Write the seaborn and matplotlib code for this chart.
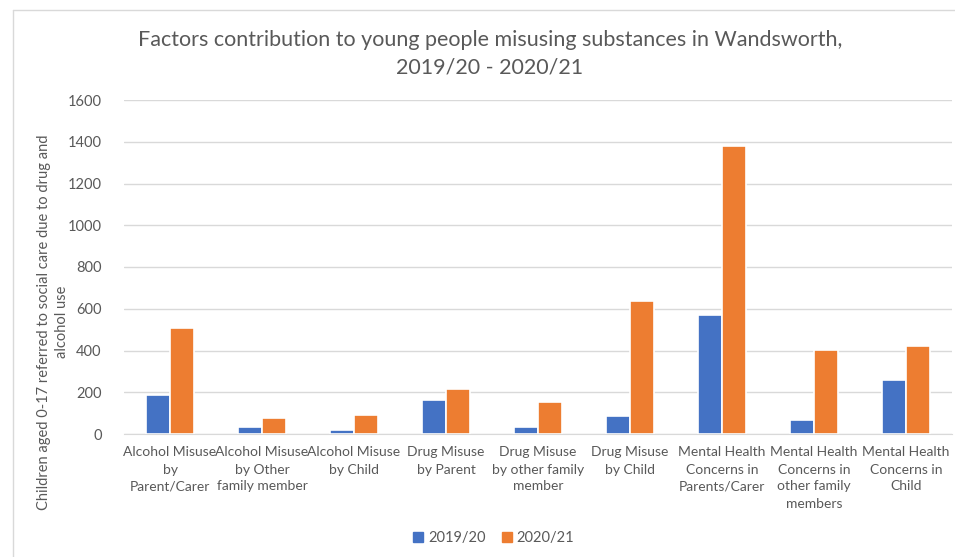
import numpy as np
import pandas as pd
import seaborn as sns
from matplotlib import pyplot as plt
from matplotlib.lines import Line2D

categories = ['Alcohol Misuse\nby\nParent/Carer', 'Alcohol Misuse\nby Other\nfamily member',
              'Alcohol Misuse\nby Child', 'Drug Misuse\nby Parent',
              'Drug Misuse\nby other family\nmember', 'Drug Misuse\nby Child',
              'Mental Health\nConcerns in\nParents/Carer',
              'Mental Health\nConcerns in\nother family\nmembers',
              'Mental Health\nConcerns in\nChild']
vals_1920 = [187, 35, 21, 163, 32, 87, 570, 67, 259]
vals_2021 = [510, 77, 90, 216, 153, 636, 1381, 404, 421]
years = ['2019/20', '2020/21']
colors = ['#4472C4', '#ED7D31']

df = pd.DataFrame({'Category': categories * 2,
                   'Year': [years[0]] * len(categories) + [years[1]] * len(categories),
                   'Children': vals_1920 + vals_2021})

sns.set_style('white')
plt.rcParams['font.family'] = ['Lato', 'DejaVu Sans']
txt = '#595959'

fig = plt.figure(figsize=(9.55, 5.57), dpi=100)
ax = fig.add_axes([124/955, 1-434/557, (952-124)/955, 334/557])
sns.barplot(data=df, x='Category', y='Children', hue='Year', palette=colors, saturation=1,
            width=0.52, edgecolor='white', linewidth=1.2, ax=ax, legend=False)

ax.set_ylim(0, 1600)
ax.set_yticks(range(0, 1601, 200))
ax.yaxis.grid(True, color='#D9D9D9', linewidth=1)
ax.set_axisbelow(True)
for s in ['top', 'right', 'left']:
    ax.spines[s].set_visible(False)
ax.spines['bottom'].set_color('#D9D9D9')
ax.tick_params(axis='both', length=0, colors=txt, labelsize=10)
ax.tick_params(axis='y', labelsize=10.5, pad=16)
ax.tick_params(axis='x', pad=9)
ax.set_xticks(range(len(categories)))
ax.set_xticklabels(categories, linespacing=1.5, va='top')
ax.set_xlabel('')
ax.set_ylabel('')
ax.set_xlim(-0.5, len(categories) - 0.5)

fig.text(490/955, 1-54/557, 'Factors contribution to young people misusing substances in Wandsworth,\n2019/20 - 2020/21',
         ha='center', va='center', fontsize=15.5, color=txt, linespacing=1.5)
fig.text(53/955, 1-322/557, 'Children aged 0-17 referred to social care due to drug and\nalcohol use',
         ha='center', va='center', rotation=90, fontsize=10.5, color=txt, linespacing=1.35)

handles = [Line2D([], [], marker='s', linestyle='', markersize=7, color=c) for c in colors]
fig.legend(handles, years, loc='center', bbox_to_anchor=(492/955, 1-538/557), ncol=2,
           frameon=False, fontsize=10.5, labelcolor=txt, handletextpad=0.1,
           columnspacing=0.8, handlelength=1.2)

# chart border pieces visible in the crop
fig.add_artist(Line2D([13/955, 13/955], [0, 1-10/557], color='#D9D9D9', linewidth=1))
fig.add_artist(Line2D([13/955, 1], [1-10/557, 1-10/557], color='#D9D9D9', linewidth=1))

fig.savefig('out.png', dpi=100)
